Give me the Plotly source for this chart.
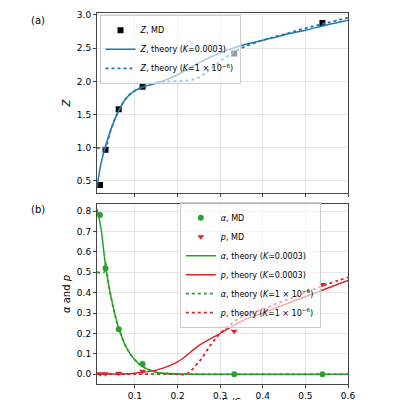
import plotly.graph_objects as go
from plotly.subplots import make_subplots

blue = "#1f77b4"; green = "#2ca02c"; red = "#d62728"

ns_md = [0.018, 0.031, 0.062, 0.118, 0.333, 0.54]
z_md = [0.44, 0.97, 1.58, 1.92, 2.42, 2.88]
alpha_md = [0.78, 0.52, 0.22, 0.05, 0.0, 0.0]
p_md = [0.002, 0.002, 0.005, 0.015, 0.21, 0.44]

ns_z = [0.011, 0.02, 0.03, 0.045, 0.062, 0.08, 0.1, 0.12, 0.15, 0.2, 0.25, 0.3, 0.35, 0.4, 0.45, 0.5, 0.55, 0.6]
z_k3 = [0.4, 0.75, 1.0, 1.3, 1.56, 1.75, 1.86, 1.92, 1.97, 2.1, 2.28, 2.43, 2.54, 2.62, 2.7, 2.77, 2.85, 2.92]
ns_zd = [0.011, 0.025, 0.03, 0.045, 0.062, 0.08, 0.1, 0.12, 0.15, 0.18, 0.22, 0.25, 0.28, 0.31, 0.35, 0.4, 0.45, 0.5, 0.55, 0.6]
z_k6 = [1.0, 1.0, 1.0, 1.3, 1.56, 1.75, 1.86, 1.92, 1.98, 2.0, 2.01, 2.06, 2.2, 2.35, 2.5, 2.62, 2.71, 2.8, 2.88, 2.96]

ns_a = [0.011, 0.02, 0.03, 0.04, 0.05, 0.06, 0.08, 0.1, 0.12, 0.15, 0.2, 0.25, 0.6]
a_k3 = [0.81, 0.72, 0.55, 0.42, 0.32, 0.24, 0.13, 0.07, 0.035, 0.01, 0.001, 0.0, 0.0]
ns_ad = [0.011, 0.028, 0.03, 0.04, 0.05, 0.06, 0.08, 0.1, 0.12, 0.15, 0.2, 0.25, 0.6]
a_k6 = [0.5, 0.5, 0.55, 0.42, 0.32, 0.24, 0.13, 0.07, 0.035, 0.01, 0.001, 0.0, 0.0]

ns_p = [0.011, 0.05, 0.1, 0.15, 0.2, 0.25, 0.3, 0.35, 0.4, 0.45, 0.5, 0.55, 0.6]
p_k3 = [0.0, 0.001, 0.005, 0.02, 0.06, 0.14, 0.2, 0.26, 0.3, 0.34, 0.38, 0.42, 0.46]
ns_pd = [0.011, 0.1, 0.2, 0.22, 0.25, 0.28, 0.31, 0.35, 0.4, 0.45, 0.5, 0.55, 0.6]
p_k6 = [0.0, 0.0, 0.0, 0.0, 0.06, 0.15, 0.22, 0.28, 0.32, 0.36, 0.4, 0.44, 0.475]

fig = make_subplots(rows=2, cols=1, shared_xaxes=True, vertical_spacing=0.03)

def line(x, y, c, dash, name, row, leg):
    fig.add_trace(go.Scatter(x=x, y=y, mode="lines", name=name, legend=leg,
                             line=dict(color=c, width=1.8 if dash == "dot" else 1.5, dash=dash, shape="spline")),
                  row=row, col=1)

fig.add_trace(go.Scatter(x=ns_md, y=z_md, mode="markers", name="<i>Z</i>, MD", legend="legend",
                         marker=dict(symbol="square", color="black", size=6)), row=1, col=1)
line(ns_z, z_k3, blue, "solid", "<i>Z</i>, theory (<i>K</i>=0.0003)", 1, "legend")
line(ns_zd, z_k6, blue, "dot", "<i>Z</i>, theory (<i>K</i>=1 × 10<sup>−6</sup>)", 1, "legend")

fig.add_trace(go.Scatter(x=ns_md, y=alpha_md, mode="markers", name="<i>α</i>, MD", legend="legend2",
                         marker=dict(symbol="circle", color=green, size=6)), row=2, col=1)
fig.add_trace(go.Scatter(x=ns_md, y=p_md, mode="markers", name="<i>p</i>, MD", legend="legend2",
                         marker=dict(symbol="triangle-down", color=red, size=6)), row=2, col=1)
line(ns_a, a_k3, green, "solid", "<i>α</i>, theory (<i>K</i>=0.0003)", 2, "legend2")
line(ns_p, p_k3, red, "solid", "<i>p</i>, theory (<i>K</i>=0.0003)", 2, "legend2")
line(ns_ad, a_k6, green, "dot", "<i>α</i>, theory (<i>K</i>=1 × 10<sup>−6</sup>)", 2, "legend2")
line(ns_pd, p_k6, red, "dot", "<i>p</i>, theory (<i>K</i>=1 × 10<sup>−6</sup>)", 2, "legend2")

ax = dict(showline=True, linecolor="#444", mirror=True, gridcolor="#e5e5e5", ticks="outside",
          ticklen=3, zeroline=False, tickfont=dict(size=9))
fig.update_xaxes(**ax, range=[0.011, 0.6], dtick=0.1)
fig.update_xaxes(title=dict(text="<i>n</i><sub>s</sub> = <i>C</i><sub>s</sub>/<i>C</i><sub>w</sub>",
                            font=dict(size=9), standoff=0), row=2, col=1)
fig.update_yaxes(**ax)
fig.update_yaxes(range=[0.32, 3.03], dtick=0.5, tickformat=".1f",
                 title=dict(text="<i>Z</i>", font=dict(size=10), standoff=4), row=1, col=1)
fig.update_yaxes(range=[-0.048, 0.834], dtick=0.1, tickformat=".1f",
                 title=dict(text="<i>α</i> and <i>p</i>", font=dict(size=10), standoff=4), row=2, col=1)

leg = dict(font=dict(size=8), bgcolor="rgba(255,255,255,0.6)", bordercolor="#ccc", borderwidth=1,
           tracegroupgap=0, itemwidth=30)
fig.update_layout(
    width=400, height=400, margin=dict(l=89, r=60, t=5, b=24, autoexpand=False),
    plot_bgcolor="white", paper_bgcolor="white",
    font=dict(family="DejaVu Sans", color="black"),
    legend=dict(**leg, x=0.01, y=0.995, xanchor="left", yanchor="top"),
    legend2=dict(**leg, x=0.33, y=0.49, xanchor="left", yanchor="top"),
    annotations=[
        dict(text="(a)", xref="paper", yref="paper", x=-0.27, y=1.0, showarrow=False, font=dict(size=10), yanchor="top"),
        dict(text="(b)", xref="paper", yref="paper", x=-0.27, y=0.49, showarrow=False, font=dict(size=10), yanchor="top"),
    ],
)
fig.write_html("out.html")
